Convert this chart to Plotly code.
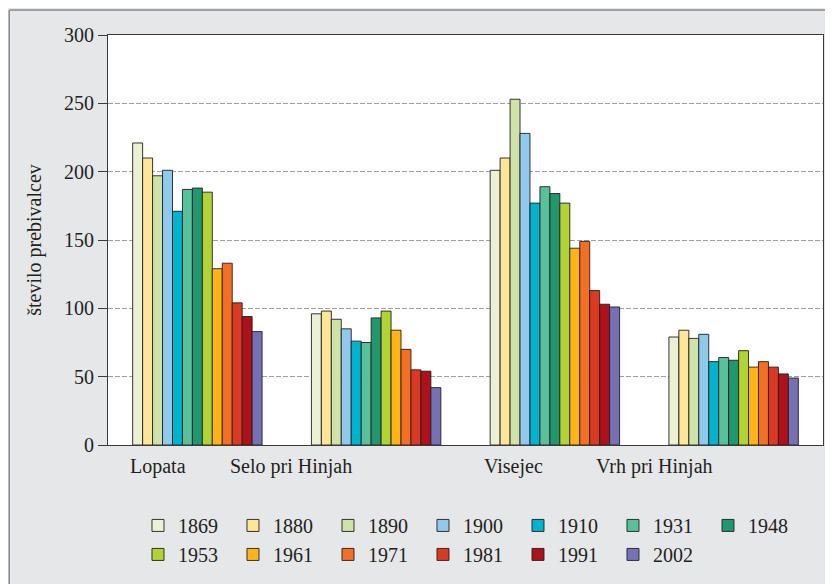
import plotly.graph_objects as go

villages = ["Lopata", "Selo pri Hinjah", "Visejec", "Vrh pri Hinjah"]
years = ["1869", "1880", "1890", "1900", "1910", "1931", "1948",
         "1953", "1961", "1971", "1981", "1991", "2002"]

# population per year, order: Lopata, Selo pri Hinjah, Visejec, Vrh pri Hinjah
pop_1869 = [221, 96, 201, 79]
pop_1880 = [210, 98, 210, 84]
pop_1890 = [197, 92, 253, 78]
pop_1900 = [201, 85, 228, 81]
pop_1910 = [171, 76, 177, 61]
pop_1931 = [187, 75, 189, 64]
pop_1948 = [188, 93, 184, 62]
pop_1953 = [185, 98, 177, 69]
pop_1961 = [129, 84, 144, 57]
pop_1971 = [133, 70, 149, 61]
pop_1981 = [104, 55, 113, 57]
pop_1991 = [94, 54, 103, 52]
pop_2002 = [83, 42, 101, 49]

series = [pop_1869, pop_1880, pop_1890, pop_1900, pop_1910, pop_1931, pop_1948,
          pop_1953, pop_1961, pop_1971, pop_1981, pop_1991, pop_2002]

colors = ["#ecf1d3", "#fee597", "#cfe3a8", "#90c9ec", "#00b4cd", "#58c19c",
          "#21976f", "#b2d334", "#fdb417", "#f36f23", "#da3a24", "#ad1119",
          "#7571b4"]

# label positions (category index units) of the village names under the axis
label_pos = [-0.22, 0.524, 1.768, 2.56]

FONT = "Liberation Serif"
TXT = "#231f20"

fig = go.Figure()
for yr, vals, col in zip(years, series, colors):
    fig.add_trace(go.Bar(
        x=villages, y=vals, name=yr,
        marker=dict(color=col, line=dict(color="rgba(35,31,32,0.9)", width=1)),
    ))

# figure sits in the page with the default 8px body margin
W, H = 825, 576
ml, mr, mt, mb = 100, 9.7, 26.5, 139
pw = W - ml - mr
ph = H - mt - mb

def px_x(p):
    return (p - ml) / pw

def px_y(p):
    return (H - mb - p) / ph

shapes = [
    dict(type="line", xref="paper", yref="paper", x0=px_x(1.5), x1=px_x(W + 5), y0=px_y(1.5), y1=px_y(1.5),
         line=dict(color="#8a8a8a", width=1.5), layer="below"),
    dict(type="line", xref="paper", yref="paper", x0=px_x(1.2), x1=px_x(1.2), y0=px_y(1.5), y1=px_y(H + 5),
         line=dict(color="#8a8a8a", width=1.5), layer="below"),
]

annotations = [
    dict(x=p, y=px_y(459), xref="x", yref="paper", text=t, showarrow=False,
         xanchor="center", yanchor="middle", font=dict(family=FONT, size=20, color=TXT))
    for p, t in zip(label_pos, villages)
]

fig.update_layout(
    width=W, height=H,
    margin=dict(l=ml, r=mr, t=mt, b=mb, autoexpand=False),
    paper_bgcolor="#e6e7e8",
    plot_bgcolor="white",
    font=dict(family=FONT, size=20, color=TXT),
    barmode="group",
    bargap=0.276,
    bargroupgap=0,
    showlegend=True,
    legend=dict(
        orientation="h", x=px_x(130), y=px_y(498), xanchor="left", yanchor="top",
        entrywidth=50, entrywidthmode="pixels", traceorder="normal",
        bgcolor="rgba(0,0,0,0)", font=dict(family=FONT, size=20, color=TXT),
        itemclick=False, itemdoubleclick=False,
    ),
    xaxis=dict(
        range=[-0.5, 3.5], showticklabels=False, ticks="",
        showline=True, linecolor="#3a3a3a", linewidth=1, mirror=True,
        showgrid=False, zeroline=False, fixedrange=True,
    ),
    yaxis=dict(
        range=[0, 300], tickvals=[0, 50, 100, 150, 200, 250, 300],
        ticks="outside", ticklen=9, tickcolor="#3a3a3a", tickwidth=1,
        showline=True, linecolor="#3a3a3a", linewidth=1, mirror=True,
        showgrid=True, gridcolor="#a0a0a0", gridwidth=1.3, griddash="5px,2px",
        zeroline=False, fixedrange=True,
        title=dict(text="število prebivalcev", standoff=17,
                   font=dict(family=FONT, size=20, color=TXT)),
        tickfont=dict(family=FONT, size=20, color=TXT),
    ),
    shapes=shapes,
    annotations=annotations,
)

fig.write_html("out.html")
